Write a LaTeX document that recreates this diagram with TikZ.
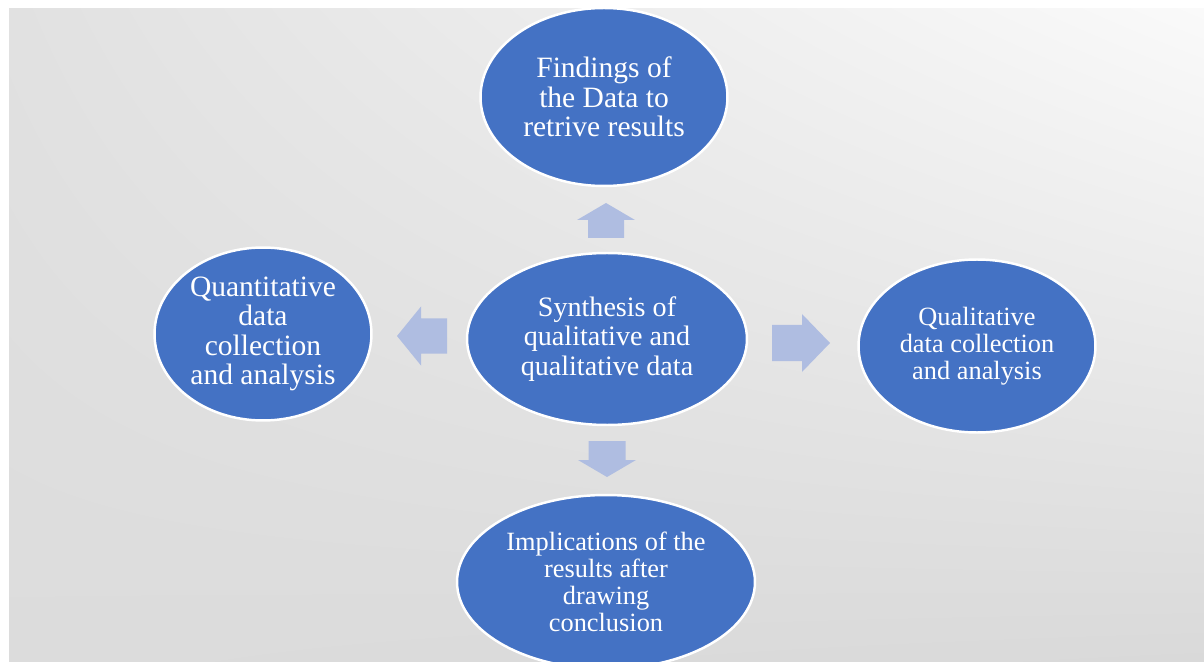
\documentclass[tikz,border=0pt]{standalone}
\usepackage{fontspec}
\setmainfont{Liberation Serif}
\usepackage{xcolor}
\usepackage{tikz}
\usetikzlibrary{shapes.geometric,shadings}
\definecolor{bubble}{HTML}{4472C4}
\definecolor{arrowfill}{HTML}{AFBDE1}
\definecolor{bgtl}{HTML}{E1E1E1}
\definecolor{bgtr}{HTML}{FAFAFA}
\definecolor{bgbl}{HTML}{DCDCDC}
\definecolor{bgbr}{HTML}{D9D9D9}
% block arrow: base point, angle, length, head length, shaft half, head half
\newcommand{\BlockArrow}[6]{%
  \fill[color=arrowfill, shift={#1}, rotate=#2]
    (0,-#5) -- ({#3-#4},-#5) -- ({#3-#4},-#6) -- (#3,0)
    -- ({#3-#4},#6) -- ({#3-#4},#5) -- (0,#5) -- cycle;
}
\tikzset{
  bubblenode/.style={ellipse, fill=bubble, draw=white, line width=1.4pt,
    inner sep=0pt, align=center, text=white,
    font=\fontsize{16}{16.6}\selectfont},
  bigtext/.style={font=\fontsize{16.8}{16.8}\selectfont},
  smalltext/.style={font=\fontsize{15}{15.4}\selectfont}
}

\begin{document}
\begin{tikzpicture}[x=0.02cm, y=-0.02cm]
  \useasboundingbox (0,0) rectangle (1204,662);
  \clip (0,0) rectangle (1204,662);
  \shade[upper left=bgtl, upper right=bgtr, lower left=bgbl, lower right=bgbr]
    (9,9) rectangle (1204,662);

  \node[bubblenode, minimum width=5.6cm, minimum height=3.44cm] (synth) at (607,339)
    {Synthesis of\\qualitative and\\qualitative data};
  \node[bubblenode, bigtext, minimum width=4.94cm, minimum height=3.56cm] (findings) at (604,97)
    {Findings of\\the Data to\\retrive results};
  \node[bubblenode, bigtext, minimum width=4.34cm, minimum height=3.46cm] (quant) at (263,334)
    {Quantitative\\data\\collection\\and analysis};
  \node[bubblenode, smalltext, minimum width=4.74cm, minimum height=3.46cm] (qual) at (977,346)
    {Qualitative\\data collection\\and analysis};
  \node[bubblenode, smalltext, minimum width=5.96cm, minimum height=3.48cm] (implic) at (606,582)
    {Implications of the\\results after\\drawing\\conclusion};

  \BlockArrow{(606,238)}{90}{35}{17}{18}{29}
  \BlockArrow{(607,441)}{-90}{36}{17}{18.5}{29}
  \BlockArrow{(447,336)}{180}{50}{24}{17.5}{29.5}
  \BlockArrow{(772,343)}{0}{58}{28}{18}{29}
\end{tikzpicture}
\end{document}
